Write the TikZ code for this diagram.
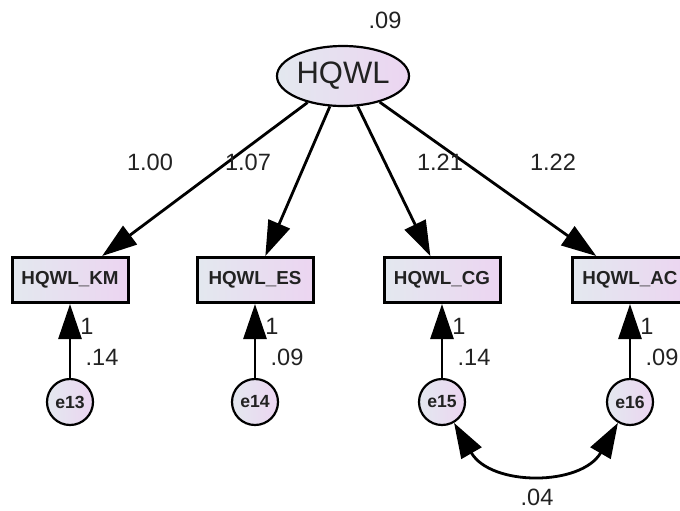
\documentclass[tikz,border=0pt]{standalone}
\usepackage{fontspec}
\setmainfont{Liberation Sans}
\usetikzlibrary{shapes.geometric,arrows.meta}
\definecolor{fillL}{HTML}{E3E8EF}
\definecolor{fillR}{HTML}{ECD5F1}
\definecolor{txt}{HTML}{222222}
\tikzset{
    EL/.style ={ellipse,minimum width=66pt,minimum height=30pt,inner sep=0pt,draw,line width=1.1pt,left color=fillL,right color=fillR,text=txt,font=\fontsize{15.5}{16}\selectfont},
    RB/.style ={rectangle,minimum width=58pt,minimum height=22.5pt,inner sep=0pt,draw,line width=1.5pt,left color=fillL,right color=fillR,text=txt,font=\bfseries\fontsize{9.4}{10}\selectfont},
    EC/.style ={circle,minimum size=23pt,inner sep=0pt,draw,line width=1.1pt,left color=fillL,right color=fillR,text=txt,font=\bfseries\fontsize{8.8}{10}\selectfont},
    LB/.style ={text=txt,font=\fontsize{11.8}{13}\selectfont},
    TIP/.tip={Triangle[length=17.5pt,width=11.5pt]},
    AR/.style ={line width=1.4pt,-TIP}
}

\begin{document}
\begin{tikzpicture}[x=0.5pt,y=-0.5pt]
            \useasboundingbox (0,0) rectangle (680,510);
            \clip (0,0) rectangle (680,510);
            \draw (343,76) node[EL](hqwl){HQWL};
            \draw (385,20) node[LB]{.09};
            \draw (70,280) node[RB](km){HQWL\_KM};
            \draw (255,280) node[RB](es){HQWL\_ES};
            \draw (442,280) node[RB](cg){HQWL\_CG};
            \draw (630,280) node[RB](ac){HQWL\_AC};
            \draw (70,402) node[EC](e13){e13};
            \draw (255,402) node[EC](e14){e14};
            \draw (442,402) node[EC](e15){e15};
            \draw (630,402) node[EC](e16){e16};
            \draw[AR] (hqwl) -- (km);
            \draw[AR] (hqwl) -- (es);
            \draw[AR] (hqwl) -- (cg);
            \draw[AR] (hqwl) -- (ac);
            \draw (150,162) node[LB]{1.00};
            \draw (248,162) node[LB]{1.07};
            \draw (440,162) node[LB]{1.21};
            \draw (553,162) node[LB]{1.22};
            \draw[AR] (e13) -- (km);
            \draw[AR] (e14) -- (es);
            \draw[AR] (e15) -- (cg);
            \draw[AR] (e16) -- (ac);
            \draw (87,326) node[LB]{1};
            \draw (102,357) node[LB]{.14};
            \draw (272,326) node[LB]{1};
            \draw (287,357) node[LB]{.09};
            \draw (459,326) node[LB]{1};
            \draw (474,357) node[LB]{.14};
            \draw (647,326) node[LB]{1};
            \draw (662,357) node[LB]{.09};
            \draw[line width=1.4pt,TIP-TIP] (e15) to[out=-60,in=-120,looseness=1.15] (e16);
            \draw (537,497) node[LB]{.04};
        \end{tikzpicture}
\end{document}
